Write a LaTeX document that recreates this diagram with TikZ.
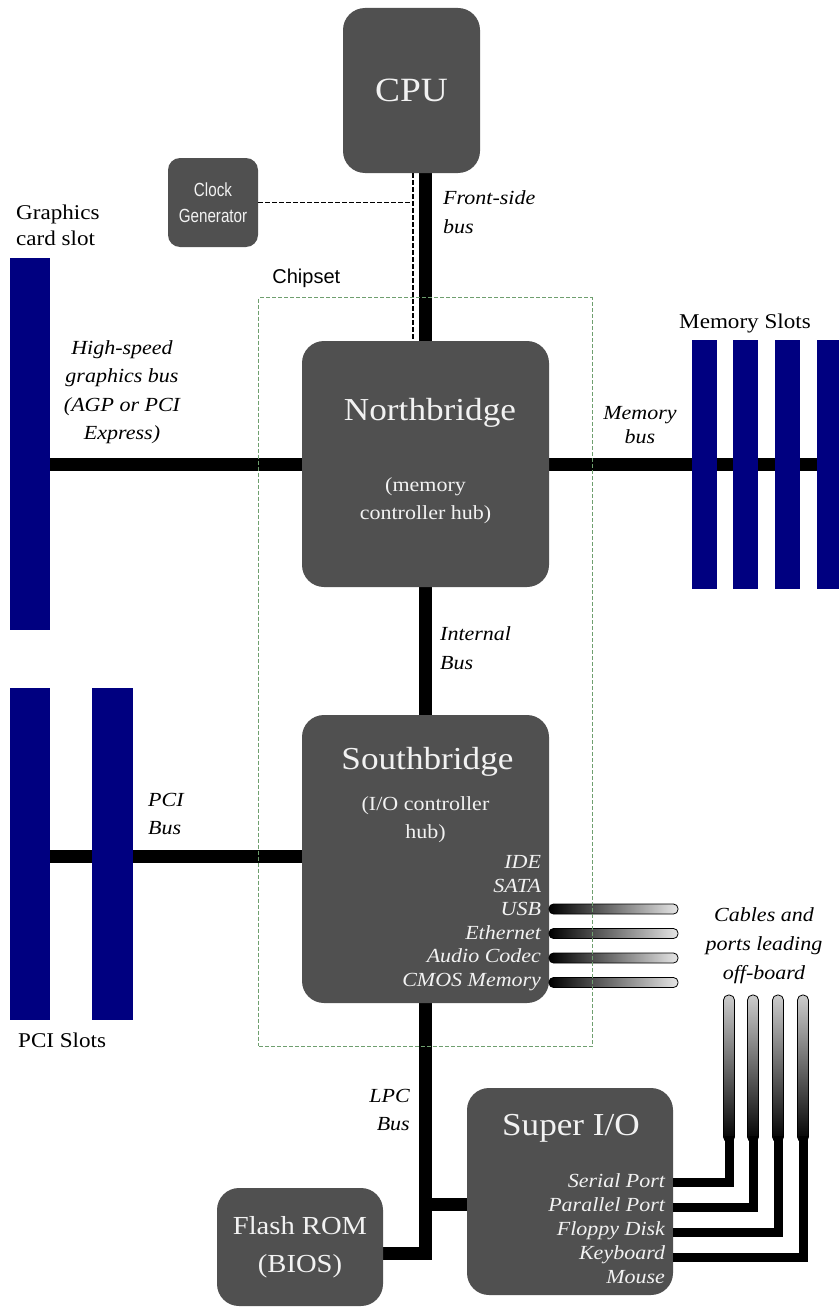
\documentclass[tikz,border=0pt]{standalone}
\usepackage{fontspec}
\setmainfont{Liberation Serif}[FakeStretch=1.1]
\newfontfamily\lblsans{Liberation Sans}
\newfontfamily\clkfont{Liberation Sans}[FakeStretch=0.8]
\usetikzlibrary{positioning,calc,fit,backgrounds}
\definecolor{BoardGray}{HTML}{505050}
\definecolor{SlotNavy}{HTML}{000080}
\definecolor{ChipGreen}{HTML}{6F9F6F}
\definecolor{BoxText}{HTML}{F2F2F2}

\begin{document}
\begin{tikzpicture}[x=1pt, y=-1pt,
    chip/.style={rounded corners=22pt, fill=BoardGray, inner sep=0pt},
    slot/.style={fill=SlotNavy, inner sep=0pt},
    bus/.style={line width=13pt, line join=miter},
    cable/.style={line width=9pt, line join=miter},
    clkline/.style={line width=1.3pt, dash pattern=on 5pt off 2pt},
    chiptitle/.style={text=BoxText, font=\fontsize{32}{36}\selectfont},
    chipsub/.style={text=BoxText, font=\fontsize{20}{28}\selectfont, align=center},
    portlist/.style={text=BoxText, font=\fontsize{20}{23.5}\selectfont\itshape, align=right, inner sep=0pt},
    buslabel/.style={font=\fontsize{20}{28.5}\selectfont\itshape, inner sep=0pt},
    slotlabel/.style={font=\fontsize{21}{26}\selectfont, inner sep=0pt}
  ]
  \useasboundingbox (0,0) rectangle (838,1311);

  % chips
  \node[chip, chiptitle, font=\fontsize{34}{38}\selectfont, minimum width=137pt, minimum height=165pt] (cpu) at (411.5,90.5) {CPU};
  \node[chip, rounded corners=12pt, minimum width=90pt, minimum height=89pt, text=BoxText,
    font=\clkfont\fontsize{19}{26}\selectfont, align=center] (clk) at (213,202.5) {Clock\\Generator};
  \node[chip, minimum width=247pt, minimum height=246pt] (nb) at (425.5,464) {};
  \node[chiptitle] (nbtitle) at ($(nb.north)+(4.5,72)$) {Northbridge};
  \node[chipsub] (nbsub) at ($(nb.north)+(0,160)$) {(memory\\controller hub)};
  \node[chip, minimum width=247pt, minimum height=288pt] (sb) at (425.5,859) {};
  \node[chiptitle] (sbtitle) at ($(sb.north)+(2,47)$) {Southbridge};
  \node[chipsub] (sbsub) at ($(sb.north)+(0,105)$) {(I/O controller\\hub)};
  \node[portlist, anchor=east] (sbports) at ($(sb.east)+(-8,64)$)
    {IDE\\SATA\\USB\\Ethernet\\Audio Codec\\CMOS Memory};
  \node[chip, minimum width=206pt, minimum height=207pt] (sio) at (570,1191.5) {};
  \node[chiptitle] (siotitle) at ($(sio.north)+(1,40)$) {Super I/O};
  \node[portlist, font=\fontsize{20}{24}\selectfont\itshape, anchor=east] (sioports) at ($(sio.east)+(-8,37.5)$)
    {Serial Port\\Parallel Port\\Floppy Disk\\Keyboard\\Mouse};
  \node[chip, minimum width=166pt, minimum height=118pt, text=BoxText, align=center,
    font=\fontsize{26}{38}\selectfont] (rom) at (300,1247) {Flash ROM\\(BIOS)};

  % slots
  \node[slot, minimum width=40pt, minimum height=372pt] (gfx) at (30,444) {};
  \node[slot, minimum width=40pt, minimum height=332pt] (p1) at (30,854) {};
  \node[slot, minimum width=41pt, minimum height=332pt] (p2) at (112.5,854) {};
  \foreach \i/\x in {1/704, 2/745, 3/787, 4/829.5}
    \node[slot, minimum width=25pt, minimum height=249pt] (m\i) at (\x,464.5) {};

  % buses
  \coordinate (busx) at (425,0);
  \coordinate (dashx) at (413,0);
  \coordinate (pcibus) at (0,856);
  \coordinate (romlink) at (0,1253);
  \coordinate (siolink) at (0,1204);
  \begin{scope}[on background layer]
    \draw[bus] (cpu.south -| busx) -- (nb.north -| busx);
    \draw[bus] (gfx.center |- nb.west) -- (nb.west);
    \draw[bus] (nb.east) -- (m4.center |- nb.east);
    \draw[bus] (nb.south -| busx) -- (sb.north -| busx);
    \draw[bus] (p1.center |- pcibus) -- (sb.west |- pcibus);
    \draw[bus] (sb.south -| busx) |- (rom.east |- romlink);
    \draw[bus] (busx |- siolink) -- (sio.west |- siolink);
  \end{scope}
  \draw[clkline] (clk.east) -- (clk.east -| dashx);
  \draw[clkline] (cpu.south -| dashx) -- (nb.north -| dashx);

  % cables leading off-board
  \foreach \y in {909,933.5,958,982.5}
    \shade[left color=black, right color=white!90!black, draw=black, line width=0.8pt, rounded corners=4.5pt]
      (549,\y-5) rectangle (678,\y+5);
  \foreach \x/\y in {729/1182, 753/1207, 778/1232, 803/1257} {
    \shade[top color=white!80!black, bottom color=black, draw=black, line width=0.8pt, rounded corners=5pt]
      (\x-5.5,995) rectangle (\x+5.5,1142);
    \draw[cable] (sio.east |- 0,\y) -| (\x,1136);
  }

  % labels
  \node[buslabel, anchor=west, align=left] (fsblbl) at (443,212) {Front-side\\bus};
  \node[slotlabel, anchor=west, align=left] (gfxlbl) at (16,225) {Graphics\\card slot};
  \node[buslabel, align=center] (agplbl) at (122,392) {High-speed\\graphics bus\\(AGP or PCI\\Express)};
  \node[buslabel, align=center, font=\fontsize{20}{24}\selectfont\itshape] (memlbl) at (640,425) {Memory\\bus};
  \node[slotlabel] (memslotlbl) at (745,323) {Memory Slots};
  \node[buslabel, anchor=west, align=left] (intlbl) at (440,648) {Internal\\Bus};
  \node[buslabel, anchor=west, align=left] (pcilbl) at (148,814) {PCI\\Bus};
  \node[slotlabel, anchor=west] (pcislotlbl) at (18,1040) {PCI Slots};
  \node[buslabel, align=center, font=\fontsize{20}{29}\selectfont\itshape] (cablelbl) at (764,946)
    {Cables and\\ports leading\\off-board};
  \node[buslabel, anchor=east, align=right] (lpclbl) at (410,1110) {LPC\\Bus};

  % chipset frame
  \node[draw=ChipGreen, line width=1.2pt, dash pattern=on 4pt off 2pt, fit=(nb)(sb), inner sep=43pt] (chipset) {};
  \node[font=\lblsans\fontsize{20}{24}\selectfont, anchor=base west, inner sep=0pt] (chipsetlbl)
    at ($(chipset.north west)+(14,-14)$) {Chipset};
\end{tikzpicture}
\end{document}
